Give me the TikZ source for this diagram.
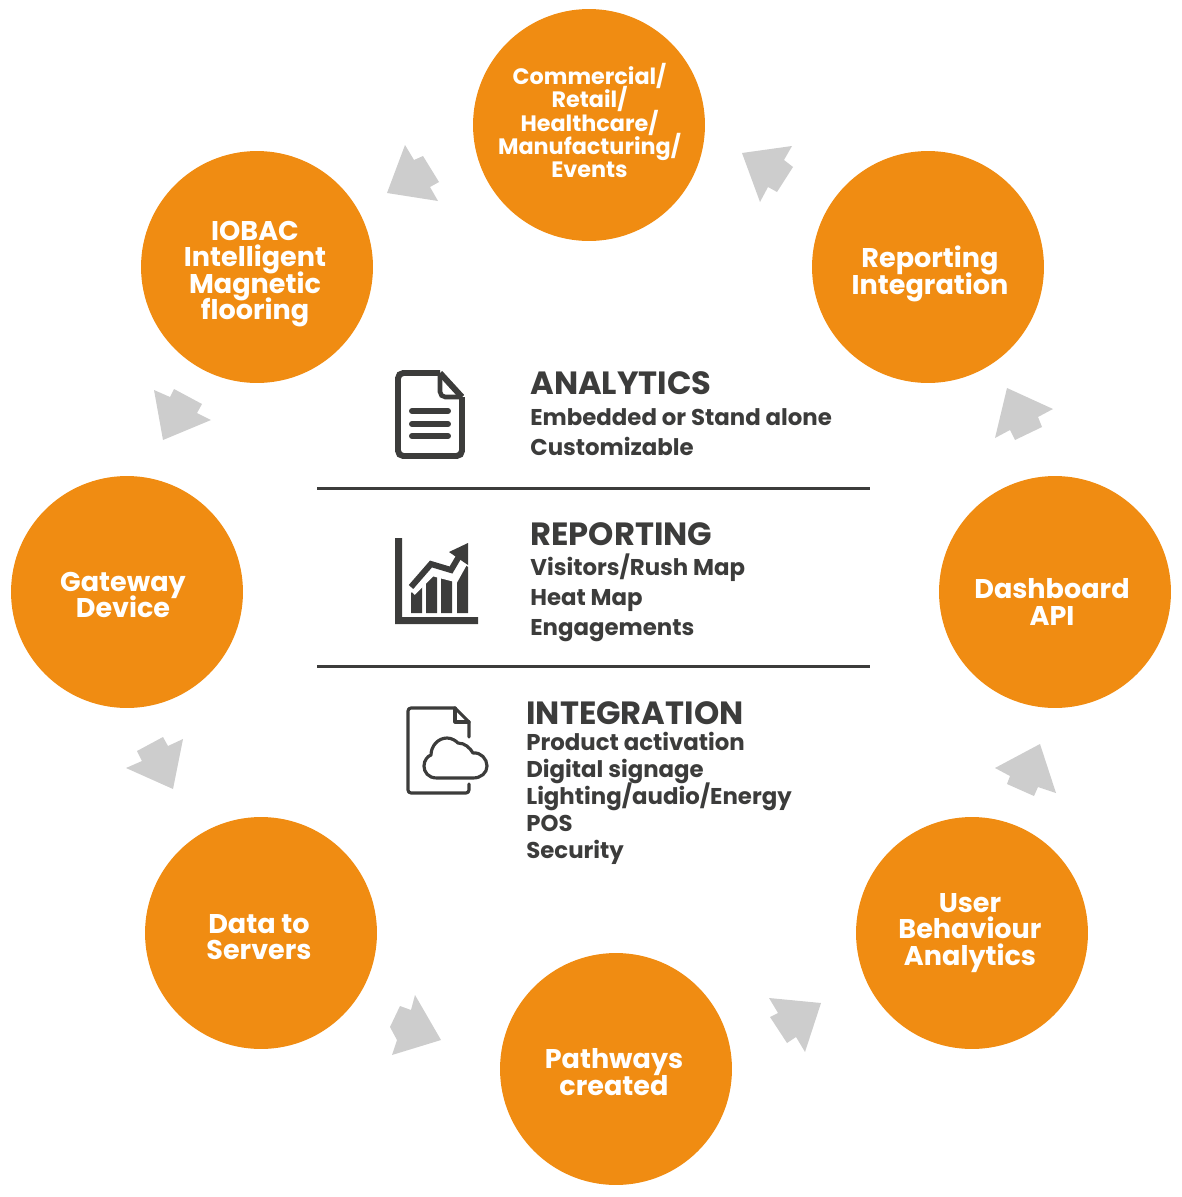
\documentclass[tikz,border=0pt]{standalone}
\usepackage{fontspec}
\setmainfont{Poppins}
\definecolor{hubfill}{HTML}{F08C12}
\definecolor{arrowgray}{HTML}{CDCDCD}
\definecolor{inkdark}{HTML}{3C3C3B}
\lineskiplimit=-100pt
\begin{document}
\begin{tikzpicture}[
        x=0.02cm, y=-0.02cm,
        hub/.style={circle, fill=hubfill, minimum size=4.64cm, inner sep=0pt},
        hubtext/.style={text=white, align=center, inner sep=0pt, font=\fontsize{15.4}{15}\selectfont\bfseries},
        smalltext/.style={text=white, align=center, inner sep=0pt, font=\fontsize{12.7}{13.2}\selectfont\bfseries},
        arrowshape/.style={fill=arrowgray},
        heading/.style={text=inkdark, anchor=west, inner sep=0pt, font=\fontsize{18.3}{18}\selectfont\bfseries},
        listA/.style={text=inkdark, anchor=west, align=left, inner sep=0pt, font=\fontsize{13}{17.2}\selectfont\bfseries},
        listB/.style={text=inkdark, anchor=west, align=left, inner sep=0pt, font=\fontsize{13}{15.3}\selectfont\bfseries},
        rule/.style={draw=inkdark, line width=1.2pt},
        icon/.style={draw=inkdark, line width=3.4pt, rounded corners=3pt},
        thinicon/.style={draw=inkdark, line width=1.8pt, line cap=round, line join=round}
    ]
        \useasboundingbox (0,0) rectangle (1181,1197);

        % Ring of circles
        \node[hub] (retail) at (589,125) {};
        \node[hub] (reporting) at (928,267) {};
        \node[hub] (dashboard) at (1055,592) {};
        \node[hub] (behaviour) at (972,933) {};
        \node[hub] (pathways) at (616,1069) {};
        \node[hub] (servers) at (261,933) {};
        \node[hub] (gateway) at (127,592) {};
        \node[hub] (iobac) at (257,267) {};

        \node[smalltext] (retailt) at (589.5,120.5) {Commercial/\\Retail/\\Healthcare/\\Manufacturing/\\Events};
        \node[hubtext] (reportingt) at (930,274) {Reporting\\Integration};
        \node[hubtext] (dashboardt) at (1052,602) {Dashboard\\API};
        \node[hubtext] (behaviourt) at (970,933) {User\\Behaviour\\Analytics};
        \node[hubtext] (pathwayst) at (614,1072) {Pathways\\created};
        \node[hubtext] (serverst) at (259,937) {Data to\\Servers};
        \node[hubtext] (gatewayt) at (123,595) {Gateway\\Device};
        \node[hubtext] (iobact) at (255,274) {IOBAC\\Intelligent\\Magnetic\\flooring};

        % Grey arrows between the circles
        \fill[arrowshape] (742,153) -- (792,146) -- (784,160) -- (793,167) -- (777,192) -- (768,187) -- (760,202) -- cycle;
        \fill[arrowshape] (1007,388) -- (1053,409) -- (1038,417) -- (1042,427) -- (1015,440) -- (1010,430) -- (995,438) -- cycle;
        \fill[arrowshape] (1040,744) -- (1056,793) -- (1038,787) -- (1034,796) -- (1007,784) -- (1010,776) -- (995,768) -- cycle;
        \fill[arrowshape] (821,1003) -- (769,998) -- (778,1013) -- (770,1017) -- (787,1043) -- (796,1037) -- (805,1052) -- cycle;
        \fill[arrowshape] (441,1040) -- (415,995) -- (411,1010) -- (400,1006) -- (390,1027) -- (397,1040) -- (392,1055) -- cycle;
        \fill[arrowshape] (126,768) -- (173,789) -- (183,739) -- (168,746) -- (163,737) -- (137,751) -- (142,761) -- cycle;
        \fill[arrowshape] (154,390) -- (170,397) -- (174,389) -- (202,404) -- (197,413) -- (211,420) -- (163,440) -- cycle;
        \fill[arrowshape] (405,145) -- (414,160) -- (423,156) -- (439,182) -- (430,187) -- (438,201) -- (387,193) -- cycle;

        % Rules
        \draw[rule] (317,488.5) -- (870,488.5);
        \draw[rule] (317,666.5) -- (870,666.5);

        % Analytics
        \draw[icon] (440,373) -- (398,373) -- (398,456) -- (462,456) -- (462,397);
        \draw[draw=inkdark, line width=3.4pt, line join=round] (440,373) -- (462,397);
        \draw[draw=inkdark, line width=2.6pt, rounded corners=3pt] (440,374) -- (440,397) -- (462,397);
        \foreach \y in {411,424,436}
            \draw[draw=inkdark, line width=3.4pt, line cap=round] (412,\y) -- (448,\y);
        \node[heading] (analytics) at (530,383) {ANALYTICS};
        \node[listA] (analyticsl) at (530,432) {Embedded or Stand alone\\Customizable};

        % Reporting
        \fill[inkdark] (395,538) -- (402,538) -- (402,617) -- (478,617) -- (478,624) -- (395,624) -- cycle;
        \fill[inkdark] (411,593) -- (422,583) -- (422,613) -- (411,613) -- cycle;
        \fill[inkdark] (426,578) -- (437,571) -- (437,613) -- (426,613) -- cycle;
        \fill[inkdark] (441,575) -- (452,577) -- (452,613) -- (441,613) -- cycle;
        \fill[inkdark] (457,575) -- (463,563) -- (468,567) -- (468,613) -- (457,613) -- cycle;
        \draw[draw=white, line width=4.5pt] (412,592) -- (432,572) -- (455,578) -- (465,560);
        \draw[draw=inkdark, line width=3.4pt] (411,587) -- (431,564) -- (451,570) -- (461,553);
        \fill[inkdark] (468,543) -- (449,552) -- (468,565) -- cycle;
        \node[heading] (report) at (530,534) {REPORTING};
        \node[listA] (reportl) at (530,598) {Visitors/Rush Map\\Heat Map\\Engagements};

        % Integration
        \draw[thinicon] (469,737) -- (469,722) -- (455,708) -- (411,708) to[out=180, in=90] (408,711) -- (408,790) to[out=-90, in=180] (411,793) -- (466,793) to[out=0, in=-90] (469,790) -- (469,784);
        \draw[thinicon] (455,708) -- (455,722) -- (469,722);
        \draw[thinicon] (437,778) .. controls (428,778) and (424,772) .. (424,766) .. controls (424,760) and (428,756) .. (431,755) .. controls (431,746) and (438,738) .. (447,738) .. controls (452,738) and (456,741) .. (458,743) .. controls (465,743) and (470,748) .. (473,753) .. controls (481,752) and (487,759) .. (487,766) .. controls (487,773) and (481,778) .. (473,778) -- cycle;
        \node[heading] (integr) at (526,713) {INTEGRATION};
        \node[listB] (integrl) at (526,798.5) {Product activation\\Digital signage\\Lighting/audio/Energy\\POS\\Security};
    \end{tikzpicture}
\end{document}
